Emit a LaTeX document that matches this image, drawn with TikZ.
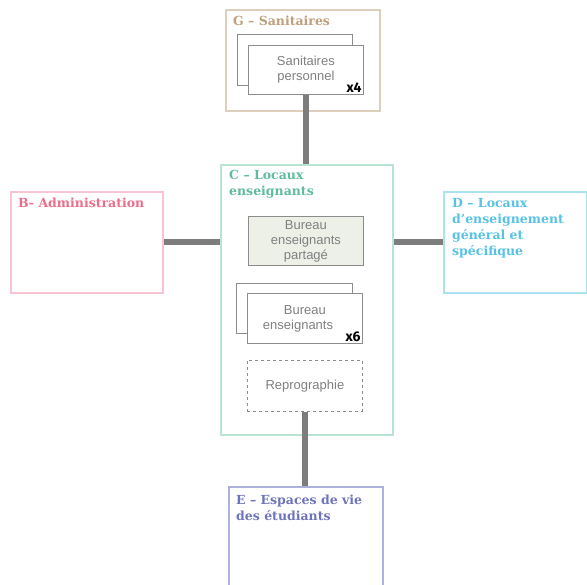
\documentclass[tikz,border=0pt]{standalone}
\usepackage{fontspec}
\setmainfont{Liberation Sans}
\newfontfamily\slab{DejaVu Serif}
\newfontfamily\cond{Fira Sans}

% zone colours
\definecolor{gline}{RGB}{221,207,188}
\definecolor{gtext}{RGB}{190,160,125}
\definecolor{cline}{RGB}{186,228,210}
\definecolor{ctext}{RGB}{95,188,158}
\definecolor{bline}{RGB}{248,196,210}
\definecolor{btext}{RGB}{234,110,140}
\definecolor{dline}{RGB}{172,225,240}
\definecolor{dtext}{RGB}{88,194,228}
\definecolor{eline}{RGB}{172,176,220}
\definecolor{etext}{RGB}{110,116,186}
\definecolor{linkgray}{RGB}{125,125,125}
\definecolor{roomline}{RGB}{140,140,140}
\definecolor{roomtext}{RGB}{128,128,128}
\definecolor{sharedfill}{RGB}{237,240,231}

\begin{document}
\begin{tikzpicture}[x=1pt,y=-1pt,
  zone/.style={draw, line width=2pt, rectangle, anchor=north west, inner sep=0pt},
  % multi-line titles: the base anchor sits on the last line
  zonetitle/.style={anchor=base west, inner sep=0pt, align=left,
    font=\slab\bfseries\fontsize{12.5}{16}\selectfont},
  room/.style={draw=roomline, line width=0.8pt, rectangle, fill=white,
    anchor=north west, inner sep=0pt, align=center, text=roomtext,
    font=\fontsize{13}{15}\selectfont},
  count/.style={anchor=south east, inner sep=0pt, text=black,
    font=\cond\bfseries\fontsize{14}{15}\selectfont},
  link/.style={draw=linkgray, line width=6pt}]
\useasboundingbox (0,0) rectangle (587,585);

% zones
\node[zone, draw=gline, minimum width=154pt, minimum height=101pt] (G) at (225,9) {};
\node[zone, draw=cline, minimum width=172pt, minimum height=270pt] (C) at (220,164) {};
\node[zone, draw=bline, minimum width=152pt, minimum height=101pt] (B) at (10,191) {};
\node[zone, draw=dline, minimum width=143pt, minimum height=101pt] (D) at (443,191) {};
\node[zone, draw=eline, minimum width=154pt, minimum height=110pt] (E) at (228,486) {};

% zone titles
\node[zonetitle, text=gtext] (Gt) at (233,26) {G – Sanitaires};
\node[zonetitle, text=ctext] (Ct) at (229,196) {C – Locaux\\enseignants};
\node[zonetitle, text=btext] (Bt) at (18,208) {B- Administration};
\node[zonetitle, text=dtext] (Dt) at (452,256) {D – Locaux\\d’enseignement\\général et\\spécifique};
\node[zonetitle, text=etext] (Et) at (236,520) {E – Espaces de vie\\des étudiants};

% sanitary rooms (stacked)
\node[room, minimum width=115pt, minimum height=51pt] (Sb) at (237,34) {};
\node[room, minimum width=115pt, minimum height=49pt] (Sf) at (248,45) {Sanitaires\\personnel};
\node[count] (Sx) at ([xshift=-2pt,yshift=2pt]Sf.south east) {x4};

% teachers' rooms
\node[room, fill=sharedfill, minimum width=115pt, minimum height=49pt] (P) at (248,216)
  {Bureau\\enseignants\\partagé};
\node[room, minimum width=116pt, minimum height=50pt] (Ob) at (236,283) {};
\node[room, minimum width=115pt, minimum height=50pt] (Of) at (247,293) {Bureau\\enseignants\phantom{x6}};
\node[count] (Ox) at ([xshift=-2pt,yshift=2pt]Of.south east) {x6};
\node[room, dashed, minimum width=115pt, minimum height=51pt] (R) at (247,360) {Reprographie};

% links between zones
\draw[link] (Sf.south) -- (Sf.south |- C.north);
\draw[link] (B.east) -- (C.west |- B.east);
\draw[link] (C.east |- D.west) -- (D.west);
\draw[link] (R.south) -- (R.south |- E.north);
\end{tikzpicture}
\end{document}
